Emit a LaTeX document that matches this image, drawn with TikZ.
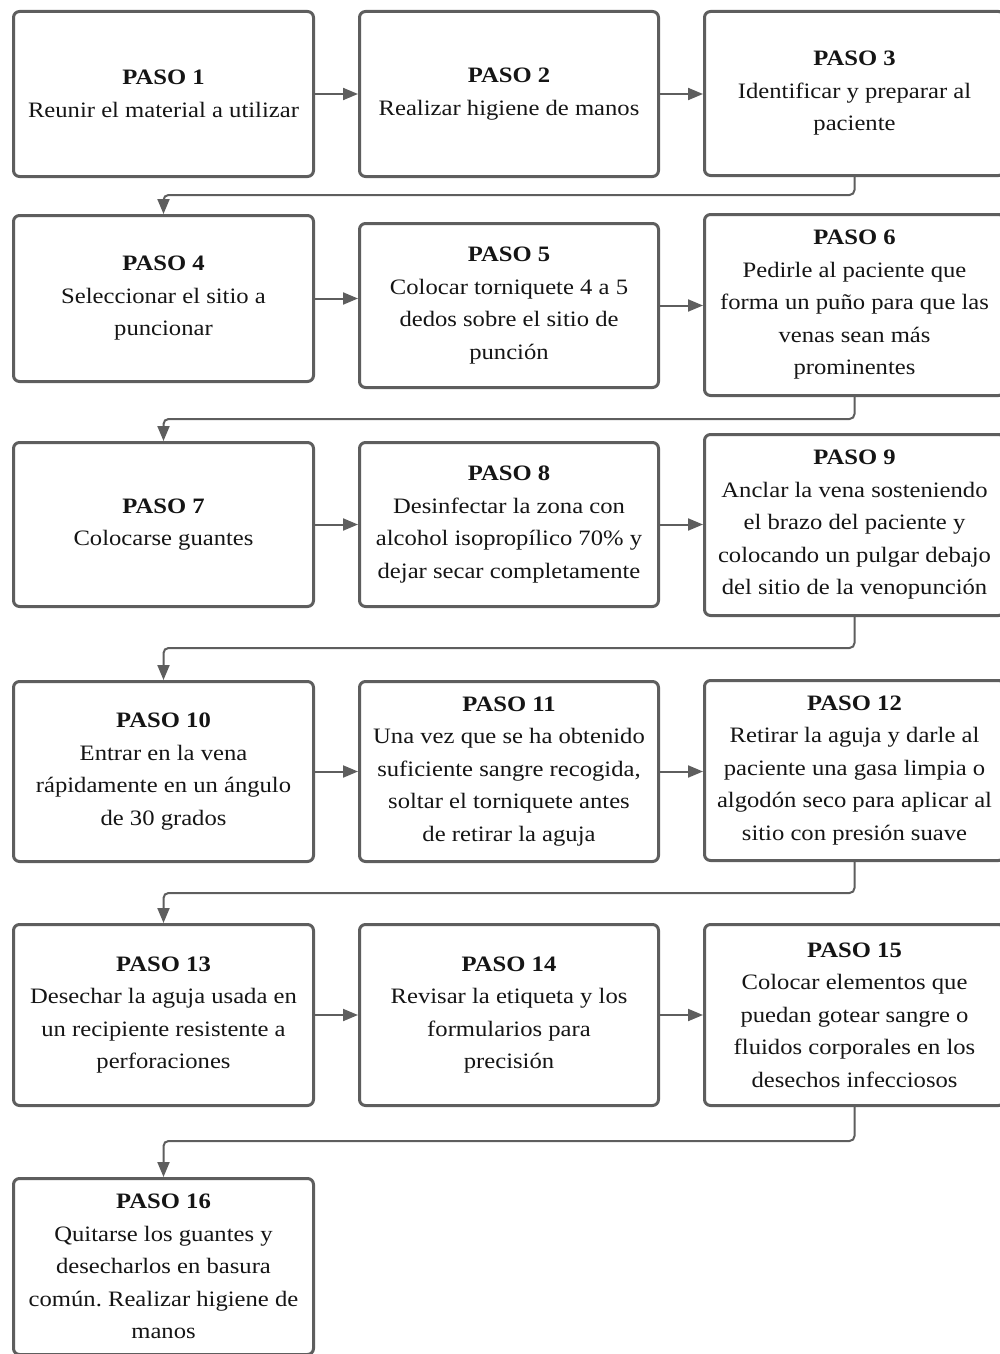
\documentclass[tikz,border=0pt]{standalone}
\usepackage{fontspec}
\setmainfont[FakeStretch=1.12]{Liberation Serif}
\usetikzlibrary{arrows.meta}
\definecolor{boxline}{HTML}{5E5E5E}
\definecolor{txt}{HTML}{151515}
\tikzset{
  stepbox/.style={draw=boxline, line width=3pt, rounded corners=6pt, fill=white,
    align=center, text=txt, inner sep=0pt,
    font=\fontsize{22}{32.5}\selectfont},
  conn/.style={draw=boxline, line width=2pt, rounded corners=5pt,
    -{Triangle[length=15pt,width=12pt]}}
}
\frenchspacing
\begin{document}
\frenchspacing
\begin{tikzpicture}[x=1pt,y=-1pt]
\useasboundingbox (0,0) rectangle (1000,1354);
\clip (0,0) rectangle (1000,1354);
% row 1
\node[stepbox, minimum width=300, minimum height=165] (s1) at (163.5,94) {\textbf{PASO 1}\\Reunir el material a utilizar};
\node[stepbox, minimum width=299, minimum height=165] (s2) at (509,94) {\textbf{PASO 2}\\Realizar higiene de manos};
\node[stepbox, minimum width=300, minimum height=164] (s3) at (854.5,93.5) {\textbf{PASO 3}\\Identificar y preparar al\\paciente};
% row 2
\node[stepbox, minimum width=300, minimum height=166] (s4) at (163.5,298.5) {\textbf{PASO 4}\\Seleccionar el sitio a\\puncionar};
\node[stepbox, minimum width=299, minimum height=164] (s5) at (509,305.5) {\textbf{PASO 5}\\Colocar torniquete 4 a 5\\dedos sobre el sitio de\\punción};
\node[stepbox, minimum width=300, minimum height=181] (s6) at (854.5,305) {\textbf{PASO 6}\\Pedirle al paciente que\\forma un puño para que las\\venas sean más\\prominentes};
% row 3
\node[stepbox, minimum width=300, minimum height=164] (s7) at (163.5,524.5) {\textbf{PASO 7}\\Colocarse guantes};
\node[stepbox, minimum width=299, minimum height=164] (s8) at (509,524.5) {\textbf{PASO 8}\\Desinfectar la zona con\\alcohol isopropílico 70\% y\\dejar secar completamente};
\node[stepbox, minimum width=300, minimum height=181] (s9) at (854.5,525) {\textbf{PASO 9}\\Anclar la vena sosteniendo\\el brazo del paciente y\\colocando un pulgar debajo\\del sitio de la venopunción};
% row 4
\node[stepbox, minimum width=300, minimum height=180] (s10) at (163.5,771.5) {\textbf{PASO 10}\\Entrar en la vena\\rápidamente en un ángulo\\de 30 grados};
\node[stepbox, minimum width=299, minimum height=180] (s11) at (509,771.5) {\textbf{PASO 11}\\Una vez que se ha obtenido\\suficiente sangre recogida,\\soltar el torniquete antes\\de retirar la aguja};
\node[stepbox, minimum width=300, minimum height=180] (s12) at (854.5,770.5) {\textbf{PASO 12}\\Retirar la aguja y darle al\\paciente una gasa limpia o\\algodón seco para aplicar al\\sitio con presión suave};
% row 5
\node[stepbox, minimum width=300, minimum height=181] (s13) at (163.5,1015) {\textbf{PASO 13}\\Desechar la aguja usada en\\un recipiente resistente a\\perforaciones};
\node[stepbox, minimum width=299, minimum height=181] (s14) at (509,1015) {\textbf{PASO 14}\\Revisar la etiqueta y los\\formularios para\\precisión};
\node[stepbox, minimum width=300, minimum height=181] (s15) at (854.5,1015) {\textbf{PASO 15}\\Colocar elementos que\\puedan gotear sangre o\\fluidos corporales en los\\desechos infecciosos};
% row 6
\node[stepbox, minimum width=300, minimum height=176] (s16) at (163.5,1266.5) {\textbf{PASO 16}\\Quitarse los guantes y\\desecharlos en basura\\común. Realizar higiene de\\manos};
% horizontal arrows
\draw[conn] (s1.east) -- (s1.east -| s2.west);
\draw[conn] (s2.east) -- (s2.east -| s3.west);
\draw[conn] (s4.east) -- (s4.east -| s5.west);
\draw[conn] (s5.east) -- (s5.east -| s6.west);
\draw[conn] (s7.east) -- (s7.east -| s8.west);
\draw[conn] (s8.east) -- (s8.east -| s9.west);
\draw[conn] (s10.east) -- (s10.east -| s11.west);
\draw[conn] (s11.east) -- (s11.east -| s12.west);
\draw[conn] (s13.east) -- (s13.east -| s14.west);
\draw[conn] (s14.east) -- (s14.east -| s15.west);
% return connectors
\draw[conn] (s3.south) -- (s3.south |- 0,195) -- (s4.north |- 0,195) -- (s4.north);
\draw[conn] (s6.south) -- (s6.south |- 0,419) -- (s7.north |- 0,419) -- (s7.north);
\draw[conn] (s9.south) -- (s9.south |- 0,648) -- (s10.north |- 0,648) -- (s10.north);
\draw[conn] (s12.south) -- (s12.south |- 0,893) -- (s13.north |- 0,893) -- (s13.north);
\draw[conn] (s15.south) -- (s15.south |- 0,1141) -- (s16.north |- 0,1141) -- (s16.north);
\end{tikzpicture}
\end{document}
